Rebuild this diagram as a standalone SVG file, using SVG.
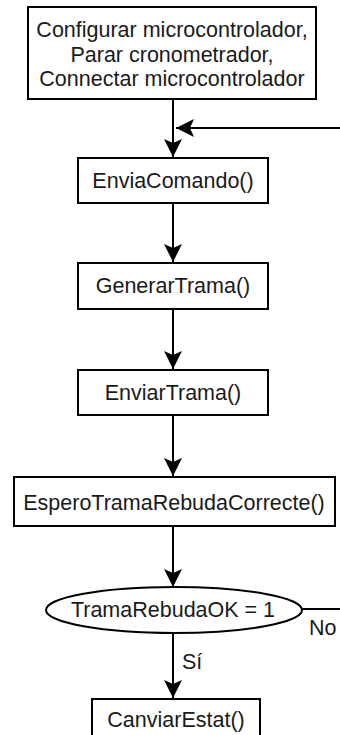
<svg xmlns="http://www.w3.org/2000/svg" width="340" height="735" viewBox="0 0 340 735">
  <style>
    .box { fill: #ffffff; stroke: #000000; stroke-width: 2; }
    .lbl { font-family: "Liberation Sans", Arial, sans-serif; font-size: 21.5px; fill: #1a1a1a; text-anchor: middle; }
    .note { font-family: "Liberation Sans", Arial, sans-serif; font-size: 21.5px; fill: #1a1a1a; }
    .wire { fill: none; stroke: #000000; stroke-width: 2; }
  </style>
  <defs>
    <marker id="arrow" markerUnits="userSpaceOnUse" viewBox="0 0 18 18" markerWidth="18" markerHeight="18" refX="18" refY="9" orient="auto">
      <path d="M0,0 L18,9 L0,18 L4,9 Z" fill="#000000"/>
    </marker>
  </defs>
  <rect width="340" height="735" fill="#ffffff"/>

  <!-- connectors -->
  <g id="connectors">
    <path class="wire" d="M173,99 V157" marker-end="url(#arrow)"/>
    <path class="wire" d="M340,128 H176" marker-end="url(#arrow)"/>
    <path class="wire" d="M173,203 V262" marker-end="url(#arrow)"/>
    <path class="wire" d="M173,309 V369" marker-end="url(#arrow)"/>
    <path class="wire" d="M173,415 V476" marker-end="url(#arrow)"/>
    <path class="wire" d="M173,526 V587" marker-end="url(#arrow)"/>
    <path class="wire" d="M173,633 V698" marker-end="url(#arrow)"/>
    <path class="wire" d="M302,609 H340"/>
    <text class="note" x="182" y="669">Sí</text>
    <text class="note" x="309" y="635">No</text>
  </g>

  <g id="init">
    <rect class="box" x="28" y="7" width="288" height="92"/>
    <text class="lbl" x="172" y="37">Configurar microcontrolador,</text>
    <text class="lbl" x="172" y="61.5">Parar cronometrador,</text>
    <text class="lbl" x="172" y="86">Connectar microcontrolador</text>
  </g>

  <g id="envia-comando">
    <rect class="box" x="78" y="158" width="190" height="45"/>
    <text class="lbl" x="173" y="188">EnviaComando()</text>
  </g>

  <g id="generar-trama">
    <rect class="box" x="78" y="263" width="190" height="46"/>
    <text class="lbl" x="173" y="293">GenerarTrama()</text>
  </g>

  <g id="enviar-trama">
    <rect class="box" x="78" y="370" width="190" height="45"/>
    <text class="lbl" x="173" y="400">EnviarTrama()</text>
  </g>

  <g id="espero-trama">
    <rect class="box" x="14" y="477" width="321" height="49"/>
    <text class="lbl" x="174" y="510">EsperoTramaRebudaCorrecte()</text>
  </g>

  <g id="trama-ok">
    <ellipse class="box" cx="174" cy="610" rx="128" ry="23"/>
    <text class="lbl" x="173" y="617">TramaRebudaOK = 1</text>
  </g>

  <g id="canviar-estat">
    <rect class="box" x="92" y="699" width="168" height="46"/>
    <text class="lbl" x="176" y="727">CanviarEstat()</text>
  </g>
</svg>
